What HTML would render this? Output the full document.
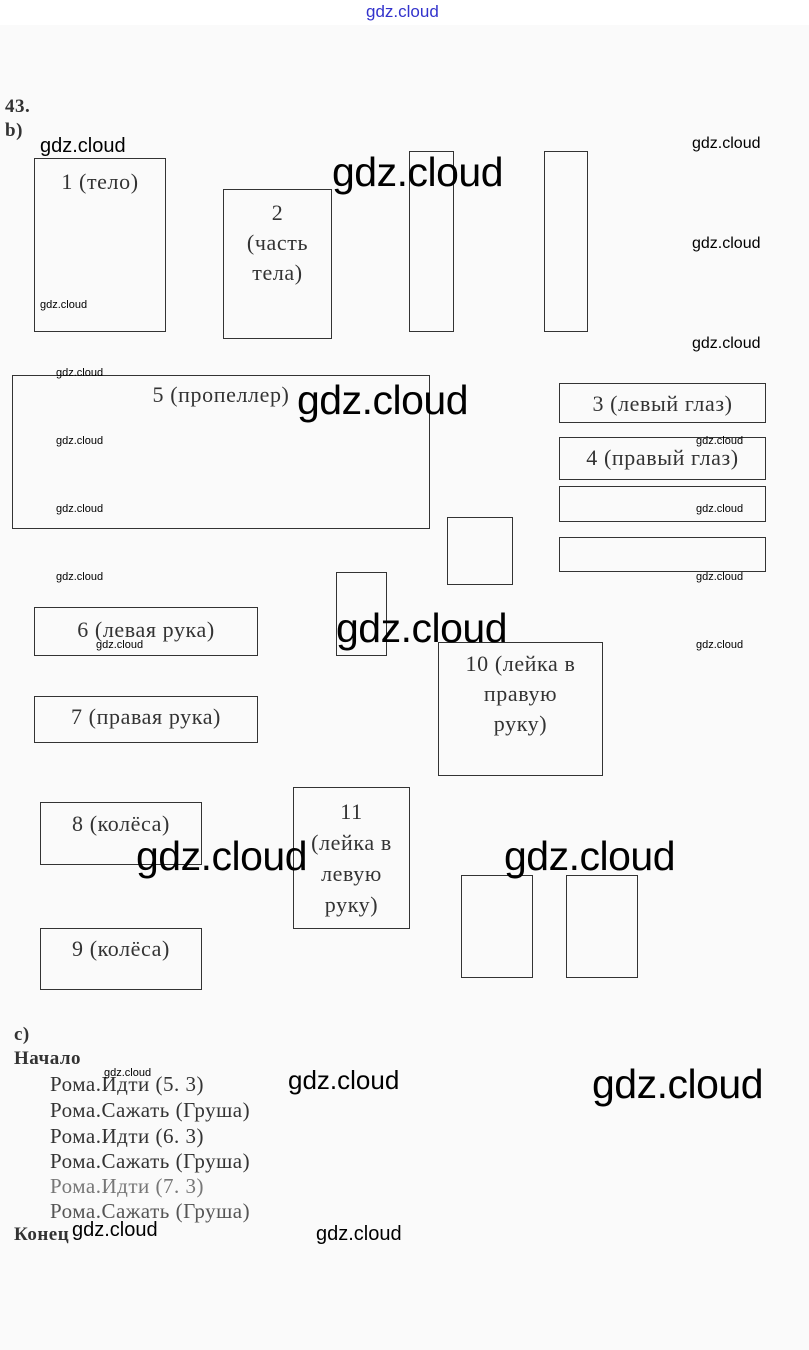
<!DOCTYPE html>
<html><head><meta charset="utf-8"><style>
body{margin:0;width:809px;height:1350px;background:#fafafa;position:relative;overflow:hidden;font-family:"Liberation Serif",serif;color:#222}
.top{position:absolute;left:0;top:0;width:809px;height:25px;background:#fff}
.b{position:absolute;border:1px solid #333;box-sizing:border-box;text-align:center;font-size:22px;letter-spacing:0.6px;line-height:30px;color:#333;white-space:nowrap}
.t{position:absolute;font-size:21px;letter-spacing:0.5px;white-space:nowrap;color:#333}
.w{position:absolute;font-family:"Liberation Sans",sans-serif;color:#000;white-space:nowrap;line-height:1}
.big{font-size:41px;letter-spacing:-0.5px}
</style></head><body>
<div class="top"></div>
<div class="w" style="left:366px;top:3px;font-size:17px;color:#3333cc">gdz.cloud</div>
<div class="t" style="left:5px;top:96px;font-weight:bold;font-size:19px">43.</div>
<div class="t" style="left:5px;top:120px;font-weight:bold;font-size:19px">b)</div>

<div class="b" style="left:34px;top:158px;width:132px;height:174px;padding-top:8px">1 (тело)</div>
<div class="b" style="left:223px;top:189px;width:109px;height:150px;padding-top:8px">2<br>(часть<br>тела)</div>
<div class="b" style="left:409px;top:151px;width:45px;height:181px"></div>
<div class="b" style="left:544px;top:151px;width:44px;height:181px"></div>
<div class="b" style="left:12px;top:375px;width:418px;height:154px;padding-top:4px">5 (пропеллер)</div>
<div class="b" style="left:559px;top:383px;width:207px;height:40px;padding-top:5px">3 (левый глаз)</div>
<div class="b" style="left:559px;top:437px;width:207px;height:43px;padding-top:5px">4 (правый глаз)</div>
<div class="b" style="left:559px;top:486px;width:207px;height:36px"></div>
<div class="b" style="left:559px;top:537px;width:207px;height:35px"></div>
<div class="b" style="left:447px;top:517px;width:66px;height:68px"></div>
<div class="b" style="left:336px;top:572px;width:51px;height:84px"></div>
<div class="b" style="left:34px;top:607px;width:224px;height:49px;padding-top:7px">6 (левая рука)</div>
<div class="b" style="left:34px;top:696px;width:224px;height:47px;padding-top:5px">7 (правая рука)</div>
<div class="b" style="left:438px;top:642px;width:165px;height:134px;padding-top:6px">10 (лейка в<br>правую<br>руку)</div>
<div class="b" style="left:40px;top:802px;width:162px;height:63px;padding-top:6px">8 (колёса)</div>
<div class="b" style="left:293px;top:787px;width:117px;height:142px;padding-top:8px;line-height:31px">11<br>(лейка в<br>левую<br>руку)</div>
<div class="b" style="left:40px;top:928px;width:162px;height:62px;padding-top:5px">9 (колёса)</div>
<div class="b" style="left:461px;top:875px;width:72px;height:103px"></div>
<div class="b" style="left:566px;top:875px;width:72px;height:103px"></div>

<div class="t" style="left:14px;top:1024px;font-weight:bold;font-size:19px">c)</div>
<div class="t" style="left:14px;top:1048px;font-weight:bold;font-size:19px">Начало</div>
<div class="t" style="left:50px;top:1072px">Рома.Идти (5. 3)</div>
<div class="t" style="left:50px;top:1098px">Рома.Сажать (Груша)</div>
<div class="t" style="left:50px;top:1124px">Рома.Идти (6. 3)</div>
<div class="t" style="left:50px;top:1149px">Рома.Сажать (Груша)</div>
<div class="t" style="left:50px;top:1174px;color:#777">Рома.Идти (7. 3)</div>
<div class="t" style="left:50px;top:1199px;color:#555">Рома.Сажать (Груша)</div>
<div class="t" style="left:14px;top:1224px;font-weight:bold;font-size:19px">Конец</div>

<div class="w" style="left:40px;top:136px;font-size:20px">gdz.cloud</div>
<div class="w" style="left:692px;top:136px;font-size:16px">gdz.cloud</div>
<div class="w big" style="left:332px;top:152px">gdz.cloud</div>
<div class="w" style="left:692px;top:236px;font-size:16px">gdz.cloud</div>
<div class="w" style="left:40px;top:300px;font-size:11px">gdz.cloud</div>
<div class="w" style="left:692px;top:336px;font-size:16px">gdz.cloud</div>
<div class="w" style="left:56px;top:368px;font-size:11px">gdz.cloud</div>
<div class="w big" style="left:297px;top:380px">gdz.cloud</div>
<div class="w" style="left:56px;top:436px;font-size:11px">gdz.cloud</div>
<div class="w" style="left:696px;top:436px;font-size:11px">gdz.cloud</div>
<div class="w" style="left:56px;top:504px;font-size:11px">gdz.cloud</div>
<div class="w" style="left:696px;top:504px;font-size:11px">gdz.cloud</div>
<div class="w" style="left:56px;top:572px;font-size:11px">gdz.cloud</div>
<div class="w" style="left:696px;top:572px;font-size:11px">gdz.cloud</div>
<div class="w big" style="left:336px;top:608px">gdz.cloud</div>
<div class="w" style="left:96px;top:640px;font-size:11px">gdz.cloud</div>
<div class="w" style="left:696px;top:640px;font-size:11px">gdz.cloud</div>
<div class="w big" style="left:136px;top:836px">gdz.cloud</div>
<div class="w big" style="left:504px;top:836px">gdz.cloud</div>
<div class="w" style="left:104px;top:1068px;font-size:11px">gdz.cloud</div>
<div class="w" style="left:288px;top:1067px;font-size:26px">gdz.cloud</div>
<div class="w big" style="left:592px;top:1064px">gdz.cloud</div>
<div class="w" style="left:72px;top:1220px;font-size:20px">gdz.cloud</div>
<div class="w" style="left:316px;top:1224px;font-size:20px">gdz.cloud</div>
</body></html>
